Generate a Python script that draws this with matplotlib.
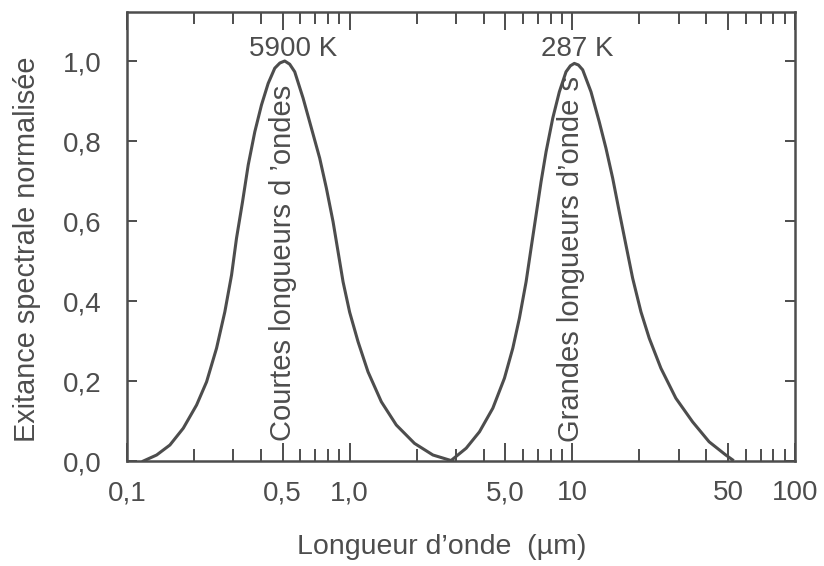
"""
Exitance spectrale normalisée du corps noir : Soleil (5900 K) et Terre (287 K)
"""

import numpy as np
import matplotlib.pyplot as plt
from matplotlib.ticker import FixedLocator, LogLocator, NullFormatter

# valeurs (longueur d'onde en µm, exitance normalisée)
lam_soleil = [0.1185, 0.1359, 0.1559, 0.1790, 0.2054, 0.2278, 0.2525, 0.2751, 0.2949,
              0.3104, 0.3303, 0.3503, 0.3750, 0.4018, 0.4306, 0.4610, 0.486, 0.511,
              0.538, 0.5667, 0.6180, 0.6735, 0.7337, 0.7862, 0.8425, 0.8872, 0.9341,
              1.0, 1.091, 1.209, 1.388, 1.620, 1.956, 2.366, 2.90]
exit_soleil = [0.0, 0.015, 0.040, 0.082, 0.140, 0.198, 0.282, 0.373, 0.465,
               0.557, 0.648, 0.740, 0.823, 0.890, 0.944, 0.982, 0.995, 1.0,
               0.992, 0.973, 0.907, 0.832, 0.757, 0.682, 0.598, 0.523, 0.448,
               0.372, 0.298, 0.223, 0.148, 0.090, 0.044, 0.015, 0.0]

lam_terre = [2.909, 3.337, 3.828, 4.395, 4.956, 5.404, 5.785, 6.200, 6.528, 6.874,
             7.237, 7.622, 8.168, 8.745, 9.369, 9.80, 10.21, 10.65,
             11.13, 12.13, 13.21, 14.16, 15.18, 16.25, 17.41, 18.66, 20.33, 22.15,
             24.99, 29.17, 34.67, 41.15, 48.89, 52.4]
exit_terre = [0.005, 0.032, 0.073, 0.132, 0.207, 0.282, 0.357, 0.448, 0.532, 0.615,
              0.698, 0.773, 0.857, 0.923, 0.973, 0.988, 0.994, 0.990,
              0.978, 0.923, 0.848, 0.782, 0.707, 0.623, 0.540, 0.457, 0.373, 0.307,
              0.232, 0.157, 0.098, 0.048, 0.015, 0.003]

xticks = [0.1, 0.5, 1, 5, 10, 50, 100]
xticklabels = ['0,1', '0,5', '1,0', '5,0', '10', '50', '100']
yticks = [0.0, 0.2, 0.4, 0.6, 0.8, 1.0]
yticklabels = ['0,0', '0,2', '0,4', '0,6', '0,8', '1,0']

gris = '#4d4d4d'
fs = 20
plt.rcParams['font.family'] = ['Liberation Sans', 'DejaVu Sans']

fig = plt.figure(figsize=(8.24, 5.66), dpi=100)
ax = fig.add_axes([0.1541, 0.1855, 0.8107, 0.7933])

ax.plot(lam_soleil, exit_soleil, color=gris, lw=2.2, solid_joinstyle='round')
ax.plot(lam_terre, exit_terre, color=gris, lw=2.2, solid_joinstyle='round')

ax.set_xscale('log')
ax.set_xlim(0.1, 100)
ax.set_ylim(0, 1.1225)

ax.xaxis.set_major_locator(FixedLocator(xticks))
ax.set_xticklabels(xticklabels)
ax.xaxis.set_minor_locator(LogLocator(base=10, subs=(2, 3, 4, 6, 7, 8, 9)))
ax.xaxis.set_minor_formatter(NullFormatter())
ax.set_yticks(yticks)
ax.set_yticklabels(yticklabels)

ax.tick_params(axis='x', which='major', direction='in', length=13, width=1.4,
               top=True, bottom=True, color=gris, labelcolor=gris,
               labelsize=fs, pad=14)
ax.tick_params(axis='x', which='minor', direction='in', length=8.5, width=1.4,
               top=True, bottom=True, color=gris)
ax.tick_params(axis='y', direction='in', length=7, width=1.4, left=True, right=True,
               color=gris, labelcolor=gris, labelsize=fs, pad=18)
for sp in ax.spines.values():
    sp.set_linewidth(1.8)
    sp.set_color(gris)

ax.set_xlabel("Longueur d\u2019onde  (\u00b5m)", fontsize=20.5, color=gris, labelpad=20)
ax.set_ylabel('Exitance spectrale normalisée', fontsize=20.8, color=gris, labelpad=16)
ax.xaxis.label.set_x(0.4716)
ax.yaxis.label.set_y(0.472)

# annotations
ax.text(0.557, 1.013, '5900 K', ha='center', va='baseline', fontsize=fs, color=gris)
ax.text(10.5, 1.013, '287 K', ha='center', va='baseline', fontsize=fs, color=gris)
ax.text(0.503, 0.05, 'Courtes longueurs d \u2019ondes', rotation=90, ha='center',
        va='bottom', fontsize=21, color=gris)
ax.text(9.9, 0.048, 'Grandes longueurs d\u2019onde s', rotation=90, ha='center',
        va='bottom', fontsize=21, color=gris)

fig.savefig('out.png', dpi=100)
